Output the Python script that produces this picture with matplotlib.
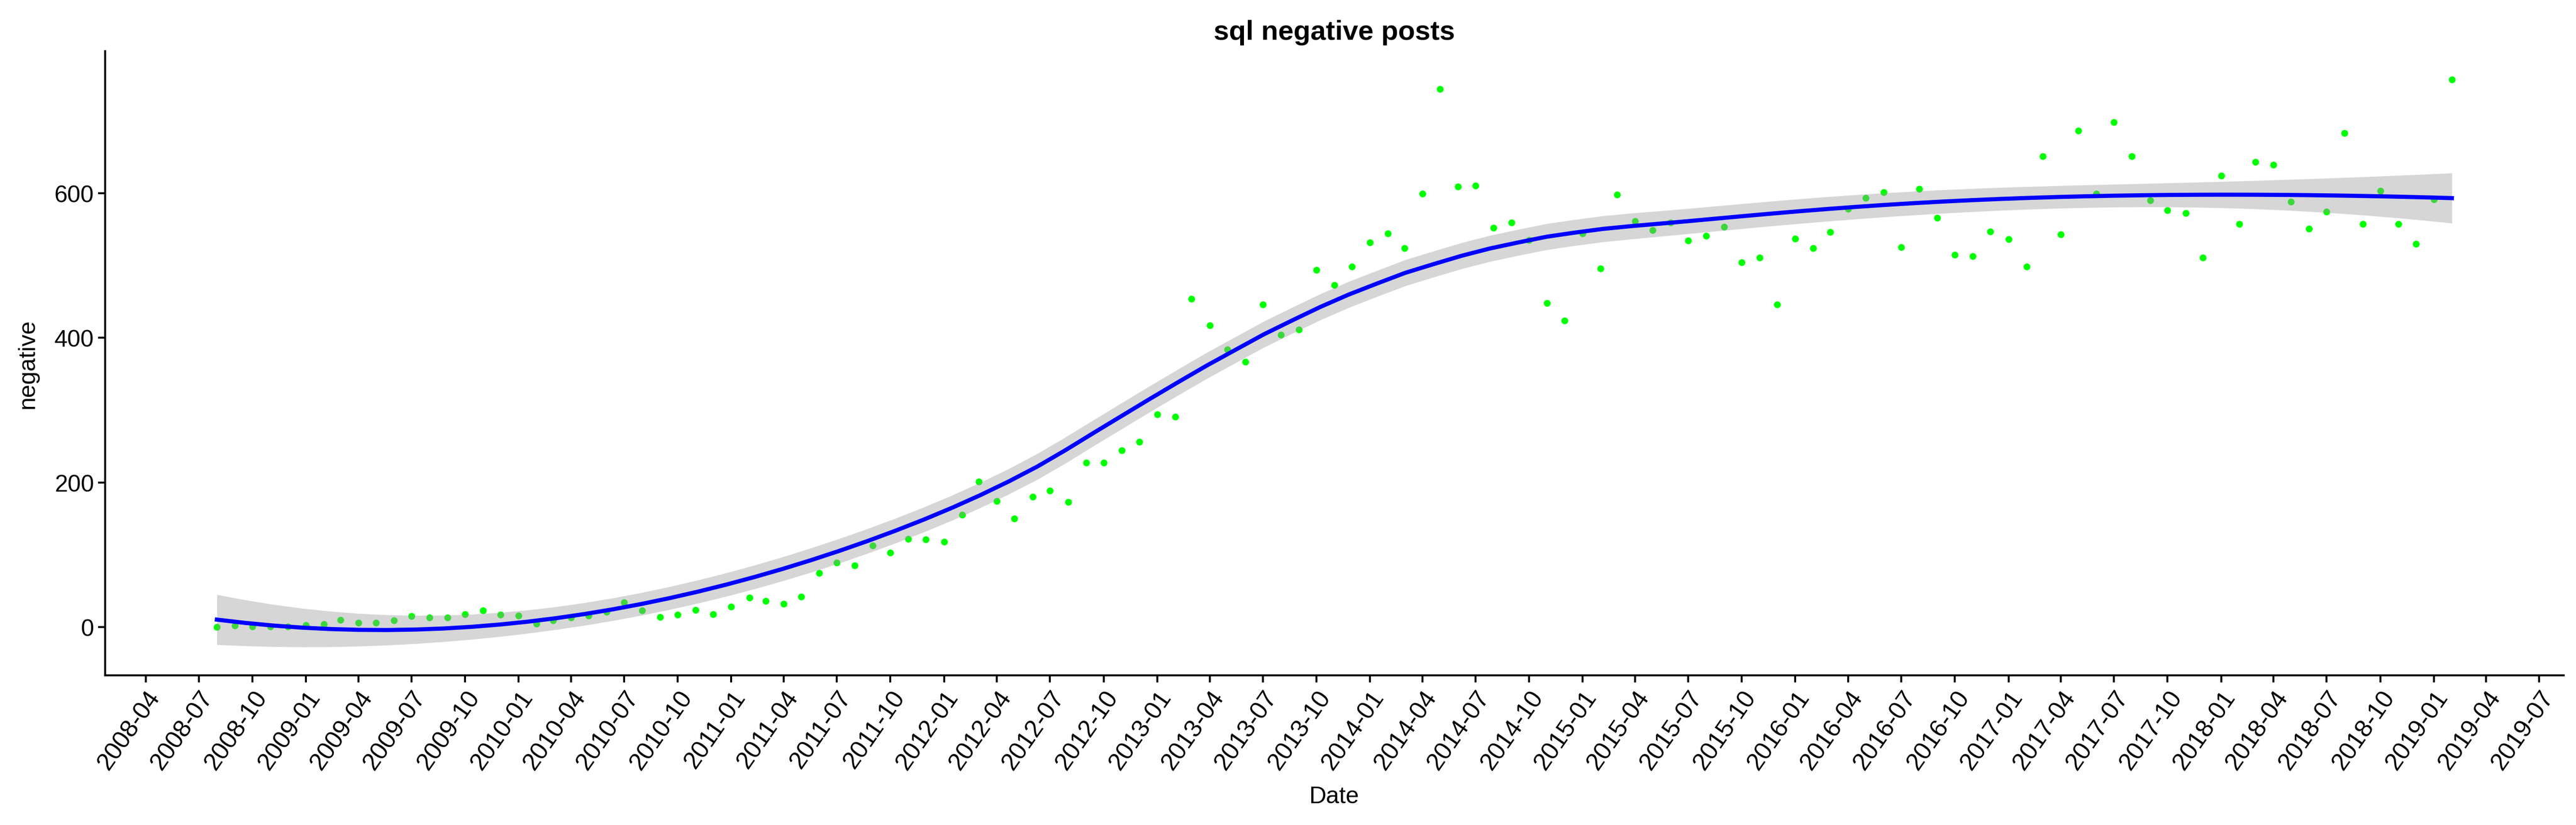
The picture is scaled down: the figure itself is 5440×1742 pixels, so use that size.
import numpy as np
import pandas as pd
import matplotlib
matplotlib.use("Agg")
import matplotlib.pyplot as plt
import matplotlib.dates as mdates

plt.rcParams['font.family'] = ['Liberation Sans', 'DejaVu Sans']

# monthly counts, 2008-08 .. 2019-02
start_month = '2008-08-01'
end_month = '2019-02-01'
negative = [
    0, 2, 1, 1, 1,
    3, 4, 10, 6, 6, 9, 15, 13, 13, 18, 23, 17,
    16, 5, 9, 13, 16, 21, 34, 23, 14, 17, 24, 18,
    28, 41, 36, 32, 42, 75, 89, 85, 113, 103, 122, 121,
    118, 155, 201, 174, 150, 180, 189, 173, 227, 227, 244, 256,
    294, 291, 454, 417, 384, 367, 446, 404, 411, 494, 473, 498,
    532, 544, 524, 599, 744, 609, 610, 552, 559, 535, 448, 424,
    544, 496, 598, 561, 549, 559, 534, 541, 553, 504, 511, 446,
    537, 524, 546, 578, 593, 601, 525, 606, 566, 515, 513, 547,
    536, 498, 651, 543, 686, 599, 698, 651, 590, 576, 572, 511,
    624, 557, 643, 639, 588, 551, 574, 683, 557, 603, 557, 530,
    591, 757,
]
title = 'sql negative posts'

dates = pd.date_range(start_month, end_month, freq='MS')
xd = mdates.date2num(dates.to_pydatetime())
y = np.array(negative, dtype=float)


def loess_rows(x, x_eval, span=0.75):
    n = len(x)
    q = int(np.floor(n * span))
    rows = []
    for x0 in x_eval:
        d = np.abs(x - x0)
        h = np.sort(d)[q - 1]
        w = np.clip(1 - (d / h) ** 3, 0, None) ** 3
        X = np.vstack([np.ones(n), x - x0, (x - x0) ** 2]).T
        XtW = X.T * w
        rows.append(np.linalg.solve(XtW @ X, XtW)[0])
    return np.array(rows)


# loess smoother (like geom_smooth default) with 95% band
xs = (xd - xd.min()) / 365.25
grid = np.linspace(xs.min(), xs.max(), 80)
L_fit = loess_rows(xs, xs)
L_grid = loess_rows(xs, grid)
res = y - L_fit @ y
IL = np.eye(len(y)) - L_fit
A = IL.T @ IL
one_delta = np.trace(A)
two_delta = np.trace(A @ A)
sigma = np.sqrt(np.sum(res ** 2) / one_delta)
df = one_delta ** 2 / two_delta
z = 1.959964
tq = z + (z ** 3 + z) / (4 * df) + (5 * z ** 5 + 16 * z ** 3 + 3 * z) / (96 * df ** 2)
fit = L_grid @ y
se = sigma * np.sqrt(np.sum(L_grid ** 2, axis=1))
lo, hi = fit - tq * se, fit + tq * se
grid_d = grid * 365.25 + xd.min()

fig = plt.figure(figsize=(5440 / 300, 1743 / 300), dpi=300)
ax = fig.add_axes([0.0408, 0.1813, 0.9544, 0.7562])

ax.scatter(xd, y, s=12, color='#00ff00', linewidths=0, zorder=1)
ax.fill_between(grid_d, lo, hi, color='#999999', alpha=0.4, linewidth=0, zorder=2)
ax.plot(grid_d, fit, color='#0000ff', linewidth=2.1, zorder=3)

xr = xd.max() - xd.min()
ax.set_xlim(xd.min() - 0.05 * xr, xd.max() + 0.05 * xr)
ymin = min(y.min(), lo.min())
ymax = max(y.max(), hi.max())
yr = ymax - ymin
ax.set_ylim(ymin - 0.05 * yr, ymax + 0.05 * yr)

ax.xaxis.set_major_locator(mdates.MonthLocator(bymonth=[1, 4, 7, 10]))
ax.xaxis.set_major_formatter(mdates.DateFormatter('%Y-%m'))
ax.set_yticks([0, 200, 400, 600])

for s in ['top', 'right']:
    ax.spines[s].set_visible(False)
for s in ['left', 'bottom']:
    ax.spines[s].set_linewidth(1.0)
ax.tick_params(length=3.6, width=1.0, color='black', labelsize=12, labelcolor='black', pad=2)
for lbl in ax.get_xticklabels():
    lbl.set_rotation(55)
    lbl.set_ha('right')
    lbl.set_va('top')
    lbl.set_rotation_mode('anchor')
    lbl.set_fontsize(12.5)

ax.set_xlabel('Date', fontsize=12, labelpad=6)
ax.set_ylabel('negative', fontsize=12, labelpad=8)
ax.set_title(title, fontsize=14, fontweight='bold', pad=6)

fig.savefig('out.png', dpi=300)
